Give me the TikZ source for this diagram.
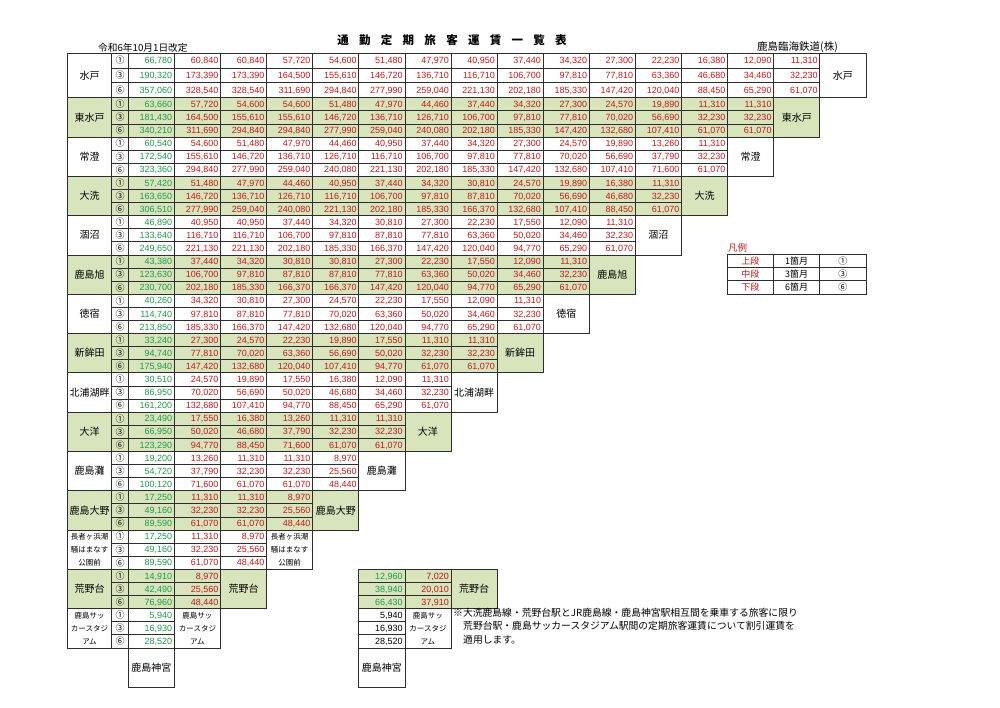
\documentclass[tikz,border=0pt]{standalone}
\usepackage{fontspec}
\setmainfont{Liberation Sans}
\newfontfamily\jp{Noto Sans CJK JP}
\definecolor{gbg}{RGB}{216,228,188}
\definecolor{tred}{RGB}{200,25,25}
\definecolor{tgrn}{RGB}{30,155,75}
\definecolor{linec}{RGB}{45,45,45}
\pgfkeys{/pgf/number format/.cd,fixed,precision=0,1000 sep={,},assume math mode=true}
\tikzset{
  grid/.style={draw=linec,line width=0.65pt},
  val/.style={anchor=base east,inner sep=0pt,font=\fontsize{9}{10}\selectfont},
  mk/.style={inner sep=0pt,font=\jp\fontsize{9}{10}\selectfont},
  nm/.style={inner sep=0pt,font=\jp\fontsize{10}{12}\selectfont},
  nms/.style={inner sep=0pt,align=center,font=\jp\fontsize{7.5}{13.1}\selectfont},
  note/.style={anchor=base west,inner sep=0pt,font=\jp\fontsize{9.8}{10}\selectfont},
}
% block of one station: #1 index, #2 fill, #3 name style, #4 name
\newcommand\blk[4]{%
  \pgfmathsetmacro\T{#1==0 ? 53 : 97.7+(#1-1)*39.3}%
  \pgfmathsetmacro\H{#1==0 ? 14.9 : 13.1}%
  \pgfmathtruncatemacro\N{15-#1}%
  \pgfmathsetmacro\B{\T+3*\H}%
  \draw[grid,fill=#2] (67.3,\T) rectangle (111.7,\B);
  \foreach \s in {0,1,2}{%
    \pgfmathsetmacro\ya{\T+\s*\H}%
    \pgfmathsetmacro\yb{\T+(\s+1)*\H}%
    \draw[grid,fill=#2] (111.7,\ya) rectangle (128.3,\yb);
    \foreach \c in {1,...,\N}{%
      \pgfmathsetmacro\xa{128.3+46.1*(\c-1)}%
      \pgfmathsetmacro\xb{128.3+46.1*\c}%
      \draw[grid,fill=#2] (\xa,\ya) rectangle (\xb,\yb);
    }
    \node[mk] (m#1-\s) at (120,{(\ya+\yb)/2}) {\ifcase\s ①\or ③\or ⑥\fi};
  }
  \pgfmathsetmacro\xa{128.3+46.1*\N}%
  \pgfmathsetmacro\xb{128.3+46.1*(\N+1)}%
  \draw[grid,fill=#2] (\xa,\T) rectangle (\xb,\B);
  \node[#3] (nl#1) at (89.5,{(\T+\B)/2}) {#4};
  \node[#3] (nr#1) at ({(\xa+\xb)/2},{(\T+\B)/2}) {#4};
}
% fares: #1 index, #2 sub-row, #3 list
\newcommand\fr[3]{%
  \pgfmathsetmacro\T{#1==0 ? 53 : 97.7+(#1-1)*39.3}%
  \pgfmathsetmacro\H{#1==0 ? 14.9 : 13.1}%
  \pgfmathsetmacro\yy{\T+(#2+0.5)*\H+3.2}%
  \foreach \v [count=\c] in {#3}{%
    \ifnum\c=1 \def\tc{tgrn}\else\def\tc{tred}\fi
    \pgfmathsetmacro\xx{128.3+46.1*\c-2}%
    \node[val,text=\tc] (v#1-#2-\c) at (\xx,\yy) {\pgfmathprintnumber{\v}};
  }
}
\begin{document}
\begin{tikzpicture}[x=1pt,y=-1pt]
\useasboundingbox[fill=white] (0,0) rectangle (1000,707);

\node[inner sep=0pt,font=\jp\fontsize{11.5}{12}\selectfont\bfseries] (title) at (452,40)
  {通\kern10.3pt 勤\kern10.3pt 定\kern10.3pt 期\kern10.3pt 旅\kern10.3pt 客\kern10.3pt 運\kern10.3pt 賃\kern10.3pt 一\kern10.3pt 覧\kern10.3pt 表};
\node[anchor=west,inner sep=0pt,font=\jp\fontsize{9.7}{10}\selectfont] (date) at (98,47.5) {令和6年10月1日改定};
\node[anchor=east,inner sep=0pt,font=\jp\fontsize{10.5}{11}\selectfont] (co) at (838,47) {鹿島臨海鉄道(株)};

\blk{0}{white}{nm}{水戸}
\blk{1}{gbg}{nm}{東水戸}
\blk{2}{white}{nm}{常澄}
\blk{3}{gbg}{nm}{大洗}
\blk{4}{white}{nm}{涸沼}
\blk{5}{gbg}{nm}{鹿島旭}
\blk{6}{white}{nm}{徳宿}
\blk{7}{gbg}{nm}{新鉾田}
\blk{8}{white}{nm}{北浦湖畔}
\blk{9}{gbg}{nm}{大洋}
\blk{10}{white}{nm}{鹿島灘}
\blk{11}{gbg}{nm}{鹿島大野}
\blk{12}{white}{nms}{長者ヶ浜潮\\騒はまなす\\公園前}
\blk{13}{gbg}{nm}{荒野台}
\blk{14}{white}{nms}{鹿島サッ\\カースタジ\\アム}

\fr{0}{0}{66780,60840,60840,57720,54600,51480,47970,40950,37440,34320,27300,22230,16380,12090,11310}
\fr{0}{1}{190320,173390,173390,164500,155610,146720,136710,116710,106700,97810,77810,63360,46680,34460,32230}
\fr{0}{2}{357060,328540,328540,311690,294840,277990,259040,221130,202180,185330,147420,120040,88450,65290,61070}
\fr{1}{0}{63660,57720,54600,54600,51480,47970,44460,37440,34320,27300,24570,19890,11310,11310}
\fr{1}{1}{181430,164500,155610,155610,146720,136710,126710,106700,97810,77810,70020,56690,32230,32230}
\fr{1}{2}{340210,311690,294840,294840,277990,259040,240080,202180,185330,147420,132680,107410,61070,61070}
\fr{2}{0}{60540,54600,51480,47970,44460,40950,37440,34320,27300,24570,19890,13260,11310}
\fr{2}{1}{172540,155610,146720,136710,126710,116710,106700,97810,77810,70020,56690,37790,32230}
\fr{2}{2}{323360,294840,277990,259040,240080,221130,202180,185330,147420,132680,107410,71600,61070}
\fr{3}{0}{57420,51480,47970,44460,40950,37440,34320,30810,24570,19890,16380,11310}
\fr{3}{1}{163650,146720,136710,126710,116710,106700,97810,87810,70020,56690,46680,32230}
\fr{3}{2}{306510,277990,259040,240080,221130,202180,185330,166370,132680,107410,88450,61070}
\fr{4}{0}{46890,40950,40950,37440,34320,30810,27300,22230,17550,12090,11310}
\fr{4}{1}{133640,116710,116710,106700,97810,87810,77810,63360,50020,34460,32230}
\fr{4}{2}{249650,221130,221130,202180,185330,166370,147420,120040,94770,65290,61070}
\fr{5}{0}{43380,37440,34320,30810,30810,27300,22230,17550,12090,11310}
\fr{5}{1}{123630,106700,97810,87810,87810,77810,63360,50020,34460,32230}
\fr{5}{2}{230700,202180,185330,166370,166370,147420,120040,94770,65290,61070}
\fr{6}{0}{40260,34320,30810,27300,24570,22230,17550,12090,11310}
\fr{6}{1}{114740,97810,87810,77810,70020,63360,50020,34460,32230}
\fr{6}{2}{213850,185330,166370,147420,132680,120040,94770,65290,61070}
\fr{7}{0}{33240,27300,24570,22230,19890,17550,11310,11310}
\fr{7}{1}{94740,77810,70020,63360,56690,50020,32230,32230}
\fr{7}{2}{175940,147420,132680,120040,107410,94770,61070,61070}
\fr{8}{0}{30510,24570,19890,17550,16380,12090,11310}
\fr{8}{1}{86950,70020,56690,50020,46680,34460,32230}
\fr{8}{2}{161200,132680,107410,94770,88450,65290,61070}
\fr{9}{0}{23490,17550,16380,13260,11310,11310}
\fr{9}{1}{66950,50020,46680,37790,32230,32230}
\fr{9}{2}{123290,94770,88450,71600,61070,61070}
\fr{10}{0}{19200,13260,11310,11310,8970}
\fr{10}{1}{54720,37790,32230,32230,25560}
\fr{10}{2}{100120,71600,61070,61070,48440}
\fr{11}{0}{17250,11310,11310,8970}
\fr{11}{1}{49160,32230,32230,25560}
\fr{11}{2}{89590,61070,61070,48440}
\fr{12}{0}{17250,11310,8970}
\fr{12}{1}{49160,32230,25560}
\fr{12}{2}{89590,61070,48440}
\fr{13}{0}{14910,8970}
\fr{13}{1}{42490,25560}
\fr{13}{2}{76960,48440}
\fr{14}{0}{5940}
\fr{14}{1}{16930}
\fr{14}{2}{28520}

% Kashima-jingu column foot
\draw[grid] (128.3,647.9) rectangle (174.4,686.9);
\node[nm] (kj1) at (151.35,667.4) {鹿島神宮};

% discount table
\foreach \s/\a/\b in {0/12960/7020,1/38940/20010,2/66430/37910}{%
  \pgfmathsetmacro\ya{569.3+13.1*\s}%
  \pgfmathsetmacro\yb{569.3+13.1*(\s+1)}%
  \draw[grid,fill=gbg] (358.8,\ya) rectangle (404.9,\yb);
  \draw[grid,fill=gbg] (404.9,\ya) rectangle (451.0,\yb);
  \node[val,text=tgrn] (da\s) at (402.9,{(\ya+\yb)/2+3.2}) {\pgfmathprintnumber{\a}};
  \node[val,text=tred] (db\s) at (449.0,{(\ya+\yb)/2+3.2}) {\pgfmathprintnumber{\b}};
}
\draw[grid,fill=gbg] (451.0,569.3) rectangle (497.1,608.6);
\node[nm] (dn1) at (474.05,588.95) {荒野台};
\foreach \s/\a in {0/5940,1/16930,2/28520}{%
  \pgfmathsetmacro\ya{608.6+13.1*\s}%
  \pgfmathsetmacro\yb{608.6+13.1*(\s+1)}%
  \draw[grid] (358.8,\ya) rectangle (404.9,\yb);
  \node[val] (dc\s) at (402.9,{(\ya+\yb)/2+3.2}) {\pgfmathprintnumber{\a}};
}
\draw[grid] (404.9,608.6) rectangle (451.0,647.9);
\node[nms] (dn2) at (427.95,628.25) {鹿島サッ\\カースタジ\\アム};
\draw[grid] (358.8,647.9) rectangle (404.9,686.9);
\node[nm] (dn3) at (381.85,667.4) {鹿島神宮};

% note
\node[note] (n1) at (453,616.5) {※大洗鹿島線・荒野台駅とJR鹿島線・鹿島神宮駅相互間を乗車する旅客に限り};
\node[note] (n2) at (463,629.9) {荒野台駅・鹿島サッカースタジアム駅間の定期旅客運賃について割引運賃を};
\node[note] (n3) at (463,643.2) {適用します。};

% legend
\node[anchor=west,inner sep=0pt,text=tred,font=\jp\fontsize{9.5}{10}\selectfont] (lg) at (728,248) {凡例};
\foreach \s/\p/\m/\k in {0/上段/1箇月/①,1/中段/3箇月/③,2/下段/6箇月/⑥}{%
  \pgfmathsetmacro\ya{254+13.33*\s}%
  \pgfmathsetmacro\yb{254+13.33*(\s+1)}%
  \draw[grid] (727,\ya) rectangle (773.7,\yb);
  \draw[grid] (773.7,\ya) rectangle (819.8,\yb);
  \draw[grid] (819.8,\ya) rectangle (865.9,\yb);
  \node[mk,text=tred] (lp\s) at (750.3,{(\ya+\yb)/2}) {\p};
  \node[mk] (lm\s) at (796.7,{(\ya+\yb)/2}) {\m};
  \node[mk] (lk\s) at (842.8,{(\ya+\yb)/2}) {\k};
}
\end{tikzpicture}
\end{document}
